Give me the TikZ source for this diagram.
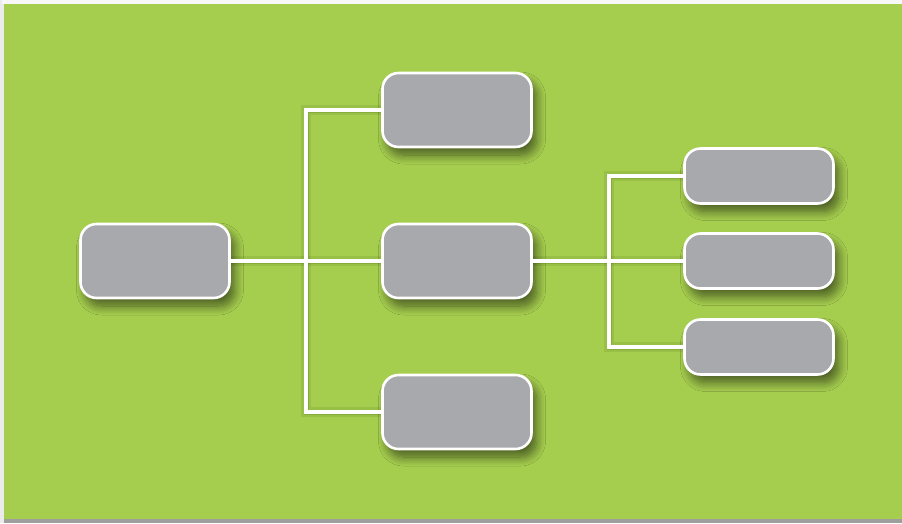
\documentclass[tikz,border=0pt]{standalone}
\usetikzlibrary{shadows.blur}
\definecolor{bggreen}{HTML}{A5CD4E}
\definecolor{boxgrey}{HTML}{A7A9AC}
\definecolor{shadegreen}{HTML}{3F5A10}
\tikzset{
  box/.style={draw=white, line width=2.6pt, fill=boxgrey, rounded corners=16pt,
    minimum width=149pt, minimum height=74pt, inner sep=0pt,
    blur shadow={shadow xshift=5pt, shadow yshift=-8pt, shadow blur radius=9pt,
      shadow blur steps=12, shadow opacity=55}},
  smallbox/.style={box, minimum width=149pt, minimum height=55pt},
  conn/.style={draw=white, line width=4pt},
  connshade/.style={draw=shadegreen, line width=10pt, opacity=0.12, line cap=round},
  connshade2/.style={draw=shadegreen, line width=5pt, opacity=0.18},
}
\begin{document}
\begin{tikzpicture}[x=1pt,y=-1pt]
\useasboundingbox (0,0) rectangle (902,523);
\fill[white!92!black] (0,0) rectangle (902,523);
\fill[white!97!black] (2,0) rectangle (902,4);
\fill[bggreen] (4,4) rectangle (902,519);
\fill[black!38] (4,519) rectangle (902,523);

\coordinate (ja) at (306,261);
\coordinate (jb) at (609,261);

\path (155,261) coordinate (rootc) (457,110) coordinate (topc) (457,261) coordinate (midc)
  (457,412) coordinate (botc) (759,176) coordinate (r1c) (759,261) coordinate (r2c) (759,347) coordinate (r3c);

% connector shadows
\foreach \s in {connshade,connshade2}{
  \draw[\s, shift={(6,6)}] (rootc) -- (midc);
  \draw[\s, shift={(6,6)}] (topc) -- (topc -| ja) -- (botc -| ja) -- (botc);
  \draw[\s, shift={(6,6)}] (midc) -- (r2c);
  \draw[\s, shift={(6,6)}] (r1c) -- (r1c -| jb) -- (r3c -| jb) -- (r3c);
}

\node[box] (root) at (rootc) {};
\node[box] (top) at (topc) {};
\node[box] (mid) at (midc) {};
\node[box] (bot) at (botc) {};
\node[smallbox] (r1) at (r1c) {};
\node[smallbox] (r2) at (r2c) {};
\node[smallbox] (r3) at (r3c) {};

\draw[conn] (root.east) -- (mid.west);
\draw[conn] (top.west) -- (top.west -| ja) -- (bot.west -| ja) -- (bot.west);
\draw[conn] (mid.east) -- (r2.west);
\draw[conn] (r1.west) -- (r1.west -| jb) -- (r3.west -| jb) -- (r3.west);
\end{tikzpicture}
\end{document}
